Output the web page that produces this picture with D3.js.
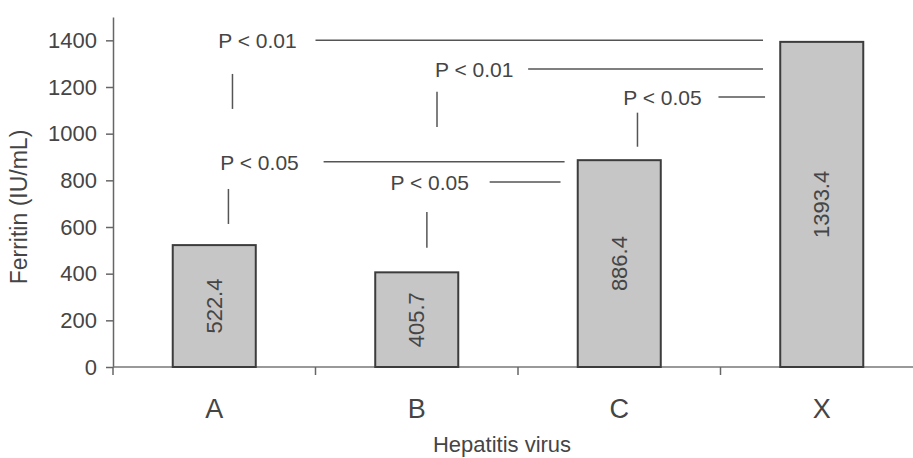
<!DOCTYPE html>
<html>
<head>
<meta charset="utf-8">
<script src="https://cdn.jsdelivr.net/npm/d3@7"></script>
<style>
  body { margin: 0; background: #fff; }
  text { font-family: "Liberation Sans", Arial, sans-serif; fill: #454545; }
</style>
</head>
<body>
<svg id="chart" width="913" height="458"></svg>
<script>
// data
var categories = ['A', 'B', 'C', 'X'];
var ferritin = [522.4, 405.7, 886.4, 1393.4];
var yTicks = [0, 200, 400, 600, 800, 1000, 1200, 1400];
var pLabels = ['P < 0.01', 'P < 0.01', 'P < 0.05', 'P < 0.05', 'P < 0.05'];

// where each comparison sits: level in IU/mL, x in category index units
var annotLayout = [
	{level: 1400, textX: 0.02, line: [0.50, 2.71], tickX: 0.09, tick: [1256, 1106]},
	{level: 1277, textX: 1.09, line: [1.55, 2.71], tickX: 1.10, tick: [1180, 1029]},
	{level: 1157, textX: 2.02, line: [2.49, 2.72], tickX: 2.09, tick: [1090, 944]},
	{level: 880,  textX: 0.03, line: [0.54, 1.73], tickX: 0.07, tick: [763, 613]},
	{level: 793,  textX: 0.87, line: [1.36, 1.71], tickX: 1.05, tick: [664, 511]}
];

var margin = {left: 113, top: 17, right: 0, bottom: 91};
var width = 913, height = 458;

var svg = d3.select('#chart');

var x = d3.scaleBand()
	.domain(categories)
	.range([margin.left, 923])
	.paddingInner(0.59)
	.paddingOuter(0.295);
var xi = d3.scaleLinear().domain([-0.5, 3.5]).range([margin.left, 923]);
var y = d3.scaleLinear().domain([0, 1500]).range([height - margin.bottom, margin.top]);

var y0 = y(0);

// y axis
var yAxis = svg.append('g')
	.attr('transform', 'translate(' + margin.left + ',0)')
	.call(d3.axisLeft(y).tickValues(yTicks).tickFormat(d3.format('d'))
		.tickSize(7).tickSizeOuter(0).tickPadding(9));
yAxis.select('.domain').attr('stroke', '#666').attr('stroke-width', 1.5);
yAxis.selectAll('.tick line').attr('stroke', '#666').attr('stroke-width', 1.5);
yAxis.selectAll('.tick text')
	.style('font-size', '22px')
	.style('font-family', '"Liberation Sans", Arial, sans-serif')
	.attr('fill', '#454545');

// x axis line and ticks at category boundaries
svg.append('line')
	.attr('x1', margin.left).attr('x2', width)
	.attr('y1', y0).attr('y2', y0)
	.attr('stroke', '#777').attr('stroke-width', 1.5);
svg.selectAll('line.xtick')
	.data(categories).enter()
	.append('line')
	.attr('class', 'xtick')
	.attr('x1', function(d, i) { return xi(i - 0.5); })
	.attr('x2', function(d, i) { return xi(i - 0.5); })
	.attr('y1', y0).attr('y2', y0 + 8)
	.attr('stroke', '#666').attr('stroke-width', 1.5);

svg.selectAll('text.cat')
	.data(categories).enter()
	.append('text')
	.attr('class', 'cat')
	.attr('x', function(d) { return x(d) + x.bandwidth() / 2; })
	.attr('y', 418)
	.attr('text-anchor', 'middle')
	.style('font-size', '27px')
	.text(function(d) { return d; });

svg.append('text')
	.attr('x', 502).attr('y', 452)
	.attr('text-anchor', 'middle')
	.style('font-size', '22px')
	.text('Hepatitis virus');

svg.append('text')
	.attr('transform', 'translate(27,207) rotate(-90)')
	.attr('text-anchor', 'middle')
	.style('font-size', '23px')
	.text('Ferritin (IU/mL)');

// bars
svg.selectAll('rect.bar')
	.data(ferritin).enter()
	.append('rect')
	.attr('class', 'bar')
	.attr('x', function(d, i) { return x(categories[i]); })
	.attr('y', function(d) { return y(d); })
	.attr('width', x.bandwidth())
	.attr('height', function(d) { return y0 - y(d); })
	.attr('fill', '#c6c6c6')
	.attr('stroke', '#3c3c3c')
	.attr('stroke-width', 2);

svg.selectAll('text.val')
	.data(ferritin).enter()
	.append('text')
	.attr('class', 'val')
	.attr('transform', function(d, i) {
		var cx = x(categories[i]) + x.bandwidth() / 2;
		var cy = (y(d) + y0) / 2;
		return 'translate(' + cx + ',' + cy + ') rotate(-90)';
	})
	.attr('text-anchor', 'middle')
	.attr('dy', '0.35em')
	.style('font-size', '22px')
	.attr('fill', '#333')
	.text(function(d) { return d.toFixed(1); });

// significance annotations
annotLayout.forEach(function(a, i) {
	svg.append('text')
		.attr('x', xi(a.textX))
		.attr('y', y(a.level))
		.attr('dy', '0.38em')
		.style('font-size', '21px')
		.text(pLabels[i]);
	svg.append('line')
		.attr('x1', xi(a.line[0])).attr('x2', xi(a.line[1]))
		.attr('y1', y(a.level)).attr('y2', y(a.level))
		.attr('stroke', '#555').attr('stroke-width', 1.5);
	svg.append('line')
		.attr('x1', xi(a.tickX)).attr('x2', xi(a.tickX))
		.attr('y1', y(a.tick[0])).attr('y2', y(a.tick[1]))
		.attr('stroke', '#555').attr('stroke-width', 1.5);
});
</script>
</body>
</html>
